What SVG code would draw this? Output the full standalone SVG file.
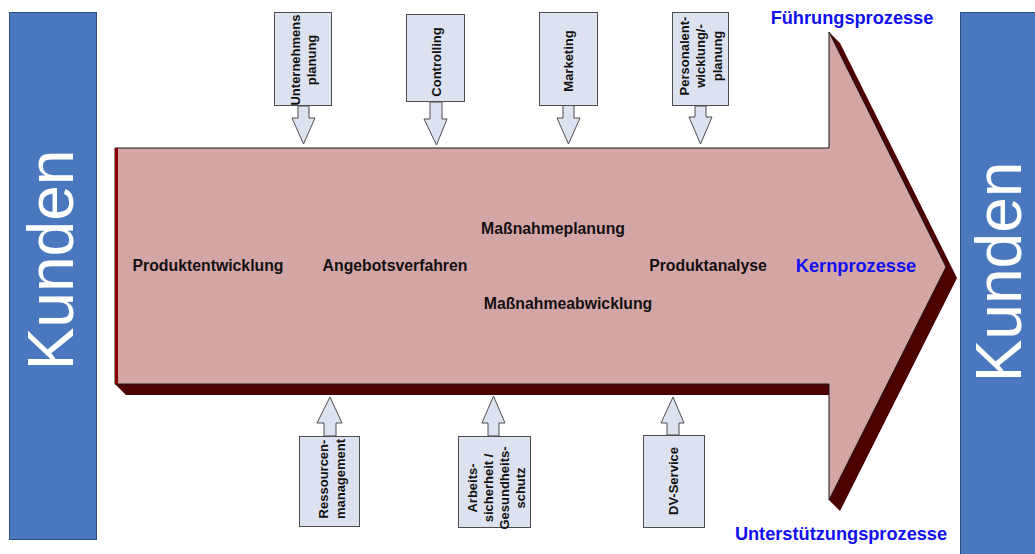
<svg xmlns="http://www.w3.org/2000/svg" width="1035" height="554" viewBox="0 0 1035 554">
<style>
.kunden{fill:#4a78be;stroke:#2e4f80;stroke-width:1}
.kt{font-family:"Liberation Sans",Arial,sans-serif;font-size:64px;fill:#ffffff;text-anchor:middle}
.box{fill:#dce2f0;stroke:#4d4d4d;stroke-width:1}
.bt{font-family:"Liberation Sans",Arial,sans-serif;font-size:13px;font-weight:bold;fill:#111;text-anchor:middle}
.lbl{font-family:"Liberation Sans",Arial,sans-serif;font-size:15.8px;font-weight:bold;fill:#111;text-anchor:middle}
.blue{font-family:"Liberation Sans",Arial,sans-serif;font-size:18.2px;font-weight:bold;fill:#1010f0;text-anchor:middle}
.barrow{fill:#dce2f0;stroke:#4d4d4d;stroke-width:1;stroke-linejoin:miter}
</style>
<rect width="1035" height="554" fill="#ffffff"/>

<g id="kunden-links">
<rect class="kunden" x="9.5" y="12.5" width="87" height="527"/>
<text class="kt" transform="translate(73,260) rotate(-90)">Kunden</text>
</g>
<g id="kunden-rechts">
<rect class="kunden" x="960.5" y="12.5" width="80" height="550"/>
<text class="kt" transform="translate(1021,272) rotate(-90)">Kunden</text>
</g>

<g id="kernprozesse">
<polygon fill="#4d0000" points="115,384 126,395 829,395 829,500 840,511 957,278 840,43 829,32 829,148 115,148"/>
<polygon fill="#d4a5a5" stroke="#1a1a1a" stroke-width="1" points="115,148 829,148 829,32 946,267 829,500 829,384 115,384"/>
<line x1="116.5" y1="148" x2="116.5" y2="384" stroke="#8b0000" stroke-width="3"/>
<text class="lbl" x="208" y="271">Produktentwicklung</text>
<text class="lbl" x="395" y="271">Angebotsverfahren</text>
<text class="lbl" x="553" y="234">Maßnahmeplanung</text>
<text class="lbl" x="568" y="309">Maßnahmeabwicklung</text>
<text class="lbl" x="708" y="271">Produktanalyse</text>
<text class="blue" x="856" y="272">Kernprozesse</text>
</g>

<g id="fuehrungsprozesse-label">
<text class="blue" x="852" y="24">Führungsprozesse</text>
</g>
<g id="unterstuetzungsprozesse-label">
<text class="blue" x="841" y="540">Unterstützungsprozesse</text>
</g>

<g id="connectors">
<polygon class="barrow" points="298,106 309,106 309,118 315,118 303.5,144 292,118 298,118"/>
<polygon class="barrow" points="430,102 442,102 442,119 447,119 436.5,145 424,119 430,119"/>
<polygon class="barrow" points="563,105 574,105 574,118 580,118 568.5,144 557,118 563,118"/>
<polygon class="barrow" points="695,106 706,106 706,117 712,117 700.5,144 689,117 695,117"/>
<polygon class="barrow" points="324,436 336,436 336,423 342,423 330,397 317,423 324,423"/>
<polygon class="barrow" points="488,436 499,436 499,423 505,423 493.5,396 482,423 488,423"/>
<polygon class="barrow" points="667,435 679,435 679,423 684,423 673,397 661,423 667,423"/>
</g>

<g id="unternehmensplanung">
<rect class="box" x="274.5" y="12.5" width="57" height="93"/>
<text class="bt" transform="translate(299.5,60) rotate(-90)"><tspan x="0" dy="0">Unternehmens</tspan><tspan x="0" dy="16">planung</tspan></text>
</g>
<g id="controlling">
<rect class="box" x="406.5" y="14.5" width="58" height="87"/>
<text class="bt" transform="translate(440.5,62) rotate(-90)">Controlling</text>
</g>
<g id="marketing">
<rect class="box" x="539.5" y="12.5" width="58" height="93"/>
<text class="bt" transform="translate(573,61) rotate(-90)">Marketing</text>
</g>
<g id="personalentwicklung">
<rect class="box" x="672.5" y="12.5" width="56" height="93"/>
<text class="bt" transform="translate(688.5,56) rotate(-90)"><tspan x="0" dy="0">Personalent-</tspan><tspan x="0" dy="16.5">wicklung/-</tspan><tspan x="0" dy="16.5">planung</tspan></text>
</g>

<g id="ressourcenmanagement">
<rect class="box" x="299.5" y="436.5" width="60" height="90"/>
<text class="bt" transform="translate(327.5,479) rotate(-90)"><tspan x="0" dy="0">Ressourcen-</tspan><tspan x="0" dy="17">management</tspan></text>
</g>
<g id="arbeitssicherheit">
<rect class="box" x="458.5" y="436.5" width="72" height="91"/>
<text class="bt" transform="translate(476.5,488) rotate(-90)"><tspan x="0" dy="0">Arbeits-</tspan><tspan x="0" dy="16">sicherheit /</tspan><tspan x="0" dy="16">Gesundheits-</tspan><tspan x="0" dy="16">schutz</tspan></text>
</g>
<g id="dv-service">
<rect class="box" x="643.5" y="435.5" width="61" height="92"/>
<text class="bt" transform="translate(677.5,481) rotate(-90)">DV-Service</text>
</g>
</svg>
